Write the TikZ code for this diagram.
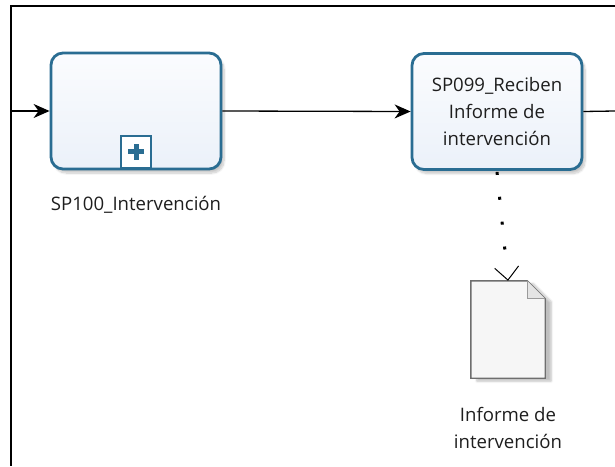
\documentclass[tikz,border=0pt]{standalone}
\usepackage{fontspec}
\setmainfont{Open Sans}
\usetikzlibrary{arrows.meta,shadows.blur}
\definecolor{taskedge}{HTML}{2A6D92}
\definecolor{tasktop}{HTML}{FBFCFE}
\definecolor{taskbot}{HTML}{EBF1F9}
\definecolor{docedge}{HTML}{6E6E6E}
\definecolor{docfill}{HTML}{F6F6F6}
\definecolor{foldfill}{HTML}{E4E4E4}
\definecolor{labeltext}{HTML}{1E1E1E}
\begin{document}
\begin{tikzpicture}[x=1pt,y=-1pt,
  lbl/.style={font=\fontsize{18.6}{27}\selectfont, text=labeltext, align=center, inner sep=0pt},
  task/.style={lbl, rectangle, rounded corners=12pt, draw=taskedge, line width=2.8pt,
    top color=tasktop, bottom color=taskbot, minimum width=170pt, minimum height=116pt,
    blur shadow={shadow xshift=3pt, shadow yshift=-4pt, shadow blur steps=8, shadow opacity=22}},
  marker/.style={rectangle, draw=taskedge, line width=2.4pt, fill=white,
    minimum width=30pt, minimum height=32pt, inner sep=0pt},
  flow/.style={line width=1.3pt, black},
  flowtip/.style={flow, -{Stealth[length=16pt, width=14pt, inset=5pt]}},
  assocdots/.style={line width=3pt, black, dash pattern=on 3pt off 22pt, shorten >=30pt},
  assoctip/.style={line width=1pt, black, dash pattern=on 0pt off 1000pt,
    -{Straight Barb[length=13pt, width=24pt, line width=1pt, line cap=butt]}},
  frame/.style={line width=1.5pt, black}
]
\useasboundingbox (0,0) rectangle (615,466);

% pool borders
\coordinate (ftl) at (11,6);
\coordinate (ftr) at (615,6);
\coordinate (fbl) at (11,466);
\draw[frame] (ftr) -- (ftl) -- (fbl);

% tasks
\node[task] (t1) at (136,111) {};
\node[marker, anchor=south] (m1) at ([yshift=1.4pt]t1.south) {};
\draw[taskedge, line width=5pt] ([xshift=-8pt]m1.center) -- ([xshift=8pt]m1.center);
\draw[taskedge, line width=5pt] ([yshift=-8pt]m1.center) -- ([yshift=8pt]m1.center);
\node[lbl] (l1) at (136,205) {SP100\_Intervención};

\node[task] (t2) at (497,111.5) {SP099\_Reciben\\Informe de\\intervención};

% data object
\node[minimum width=74pt, minimum height=97pt, inner sep=0pt] (doc) at (508,329.5) {};
\path[fill=white, blur shadow={shadow xshift=6pt, shadow yshift=-3pt, shadow blur steps=8, shadow opacity=25}]
  (doc.north west) -- ([xshift=-18pt]doc.north east) -- ([yshift=-18pt]doc.north east)
  -- (doc.south east) -- (doc.south west) -- cycle;
\draw[docedge, fill=docfill, line width=1.4pt, line join=miter]
  (doc.north west) -- ([xshift=-18pt]doc.north east) -- ([yshift=-18pt]doc.north east)
  -- (doc.south east) -- (doc.south west) -- cycle;
\draw[docedge!70, fill=foldfill, line width=0.8pt]
  ([xshift=-18pt]doc.north east) -- ([xshift=-18pt,yshift=-18pt]doc.north east)
  -- ([yshift=-18pt]doc.north east);
\node[lbl] (l2) at (508,428) {Informe de\\intervención};

% connectors
\coordinate (in1) at (11,111);
\coordinate (out2) at (615,111);
\draw[flowtip] (in1) -- (t1.west);
\draw[flowtip] (t1.east) -- (t2.west);
\draw[flow] (t2.east) -- (out2);
\draw[assocdots] ([yshift=-1pt]t2.south) -- (doc.north);
\draw[assoctip] (t2.south) -- (doc.north);
\end{tikzpicture}
\end{document}
